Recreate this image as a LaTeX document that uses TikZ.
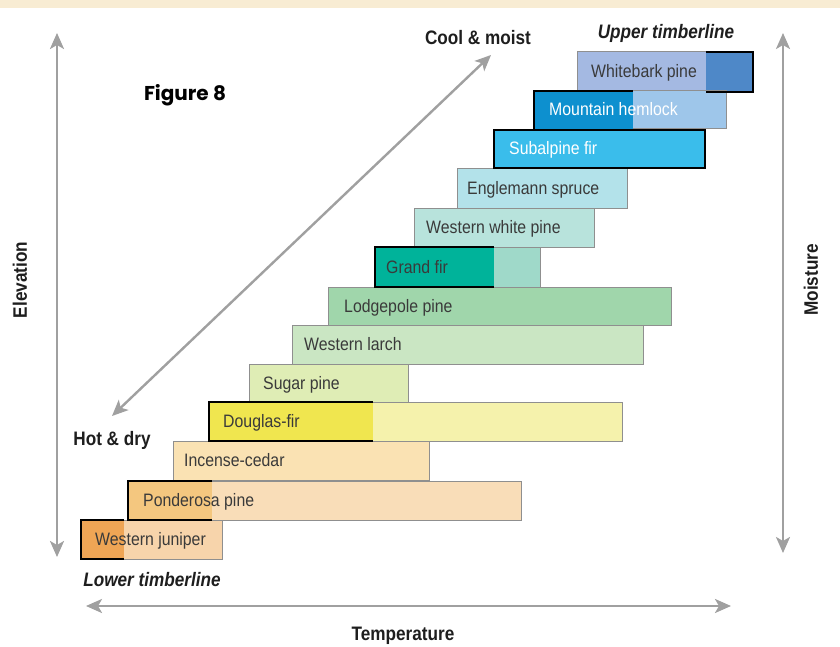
\documentclass[tikz,border=0pt]{standalone}
\usepackage{fontspec}
\setmainfont{Liberation Sans}[FakeStretch=0.88]
\newfontfamily\figfont{Poppins}
\usetikzlibrary{arrows.meta}
\definecolor{band}{HTML}{F8ECD3}
\definecolor{barline}{HTML}{8F8F8F}
\definecolor{axisgray}{HTML}{A0A0A0}
\definecolor{lbltext}{HTML}{3A3A3A}
\definecolor{ttltext}{HTML}{1E1E1E}
\definecolor{wbL}{HTML}{A4B9E2}\definecolor{wbD}{HTML}{4E88C8}
\definecolor{mhL}{HTML}{9EC6EA}\definecolor{mhD}{HTML}{0D90CF}
\definecolor{sfC}{HTML}{3ABDEB}
\definecolor{esC}{HTML}{B3E2EA}
\definecolor{wwC}{HTML}{B8E3DC}
\definecolor{gfL}{HTML}{9FD9C9}\definecolor{gfD}{HTML}{00B39A}
\definecolor{lpC}{HTML}{A0D6AB}
\definecolor{wlC}{HTML}{CAE6C3}
\definecolor{spC}{HTML}{DFEDB5}
\definecolor{dfL}{HTML}{F5F2AC}\definecolor{dfD}{HTML}{F0E64F}
\definecolor{icC}{HTML}{FAE2B3}
\definecolor{ppL}{HTML}{F9DDB8}\definecolor{ppD}{HTML}{F4C77F}
\definecolor{wjL}{HTML}{F7D4AB}\definecolor{wjD}{HTML}{EFA555}
\begin{document}
\begin{tikzpicture}[x=1pt,y=-1pt,
  bar/.style={draw=barline, line width=1pt, anchor=north west, inner sep=0pt, outer sep=0pt},
  darkpart/.style={anchor=north west, inner sep=0pt, outer sep=0pt, draw=none},
  blk/.style={draw=black, line width=2.8pt, line join=miter},
  lbl/.style={anchor=base west, inner sep=0pt, font=\fontsize{18}{21}\selectfont, text=lbltext},
  ttl/.style={inner sep=0pt, font=\fontsize{19.5}{22}\selectfont\bfseries, text=ttltext},
  axis/.style={draw=axisgray, line width=2.4pt,
    {Stealth[length=16pt,width=14pt,inset=4pt]}-{Stealth[length=16pt,width=14pt,inset=4pt]}}
]
\useasboundingbox (0,0) rectangle (840,647);
\fill[white] (0,0) rectangle (840,647);
\fill[band] (0,0) rectangle (840,8);

% bars, top to bottom
\node[bar, fill=wbL, minimum width=176, minimum height=40] (wb) at (577,52) {};
\node[darkpart, fill=wbD, minimum width=47, minimum height=40] (wbd) at (706,52) {};
\node[bar, fill=mhL, minimum width=192, minimum height=38] (mh) at (534,91) {};
\node[darkpart, fill=mhD, minimum width=99, minimum height=38] (mhd) at (534,91) {};
\node[bar, fill=sfC, minimum width=211, minimum height=38] (sf) at (494,130) {};
\node[bar, fill=esC, minimum width=170, minimum height=39] (es) at (457,169) {};
\node[bar, fill=wwC, minimum width=180, minimum height=39] (ww) at (414,208) {};
\node[bar, fill=gfL, minimum width=165, minimum height=40] (gf) at (375,247) {};
\node[darkpart, fill=gfD, minimum width=119, minimum height=40] (gfd) at (375,247) {};
\node[bar, fill=lpC, minimum width=343, minimum height=38] (lp) at (328,287) {};
\node[bar, fill=wlC, minimum width=351, minimum height=39] (wl) at (292,325) {};
\node[bar, fill=spC, minimum width=159, minimum height=38] (sp) at (249,364) {};
\node[bar, fill=dfL, minimum width=413, minimum height=39] (df) at (209,402) {};
\node[darkpart, fill=dfD, minimum width=164, minimum height=39] (dfd) at (209,402) {};
\node[bar, fill=icC, minimum width=256, minimum height=39] (ic) at (173,441) {};
\node[bar, fill=ppL, minimum width=393, minimum height=39] (pp) at (128,481) {};
\node[darkpart, fill=ppD, minimum width=84, minimum height=39] (ppd) at (128,481) {};
\node[bar, fill=wjL, minimum width=141, minimum height=39] (wj) at (81,520) {};
\node[darkpart, fill=wjD, minimum width=43, minimum height=39] (wjd) at (81,520) {};

% black outlines of the dominant parts
\draw[blk] (wbd.north west) -- (wbd.north east) -- (wbd.south east) -- (wbd.south west);
\draw[blk] (mhd.north east) -- (mhd.north west) -- (mhd.south west);
\draw[blk] (sf.north west) rectangle (sf.south east);
\draw[blk] (gfd.north east) -- (gfd.north west) -- (gfd.south west) -- (gfd.south east);
\draw[blk] (dfd.north east) -- (dfd.north west) -- (dfd.south west) -- (dfd.south east);
\draw[blk] (ppd.north east) -- (ppd.north west) -- (ppd.south west) -- (ppd.south east);
\draw[blk] (wjd.north east) -- (wjd.north west) -- (wjd.south west) -- (wjd.south east);

% bar labels
\node[lbl] (twb) at ([xshift=14pt,yshift=-6pt]wb.west) {Whitebark pine};
\node[lbl, text=white] (tmh) at ([xshift=15pt,yshift=-6pt]mh.west) {Mountain hemlock};
\node[lbl, text=white] (tsf) at ([xshift=15pt,yshift=-6pt]sf.west) {Subalpine fir};
\node[lbl] (tes) at ([xshift=10pt,yshift=-6pt]es.west) {Englemann spruce};
\node[lbl] (tww) at ([xshift=12pt,yshift=-6pt]ww.west) {Western white pine};
\node[lbl] (tgf) at ([xshift=11pt,yshift=-6pt]gf.west) {Grand fir};
\node[lbl] (tlp) at ([xshift=16pt,yshift=-6pt]lp.west) {Lodgepole pine};
\node[lbl] (twl) at ([xshift=12pt,yshift=-6pt]wl.west) {Western larch};
\node[lbl] (tsp) at ([xshift=14pt,yshift=-6pt]sp.west) {Sugar pine};
\node[lbl] (tdf) at ([xshift=14pt,yshift=-6pt]df.west) {Douglas-fir};
\node[lbl] (tic) at ([xshift=11pt,yshift=-6pt]ic.west) {Incense-cedar};
\node[lbl] (tpp) at ([xshift=15pt,yshift=-6pt]pp.west) {Ponderosa pine};
\node[lbl] (twj) at ([xshift=14pt,yshift=-6pt]wj.west) {Western juniper};

% axes
\coordinate (eB) at (57,557); \coordinate (eT) at (57,33);
\coordinate (mB) at (783,553); \coordinate (mT) at (783,33);
\coordinate (tL) at (86,606); \coordinate (tR) at (731,606);
\coordinate (dL) at (112,416); \coordinate (dR) at (491,55);
\draw[axis] (eB) -- (eT);
\draw[axis] (mB) -- (mT);
\draw[axis] (tL) -- (tR);
\draw[axis] (dL) -- (dR);

% titles
\node[ttl, rotate=90] (elev) at (20,280) {Elevation};
\node[ttl, rotate=90] (moist) at (811,280) {Moisture};
\node[ttl] (temp) at (403,636) {Temperature};
\node[ttl] (cool) at (478,38) {Cool \& moist};
\node[ttl] (hot) at (112,440) {Hot \& dry};
\node[ttl, font=\fontsize{19.5}{22}\selectfont\bfseries\itshape] (upper) at (666,33) {Upper timberline};
\node[ttl, font=\fontsize{19.5}{22}\selectfont\bfseries\itshape] (lower) at (152,580) {Lower timberline};
\node[inner sep=0pt, font=\figfont\fontsize{20}{23}\selectfont\bfseries, text=black] (fig) at (185,95) {Figure 8};
\end{tikzpicture}
\end{document}
